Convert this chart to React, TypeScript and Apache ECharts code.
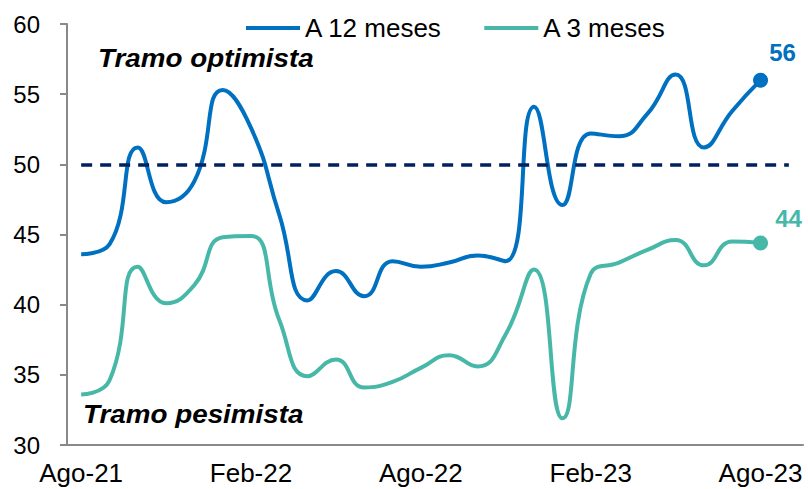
import React, { useEffect, useRef } from "react";
import * as echarts from "echarts";

const months = [
  "Ago-21", "Sep-21", "Oct-21", "Nov-21", "Dic-21", "Ene-22",
  "Feb-22", "Mar-22", "Abr-22", "May-22", "Jun-22", "Jul-22",
  "Ago-22", "Sep-22", "Oct-22", "Nov-22", "Dic-22", "Ene-23",
  "Feb-23", "Mar-23", "Abr-23", "May-23", "Jun-23", "Jul-23",
  "Ago-23", "Sep-23",
];

const a12 = [
  43.6, 44.3, 51.2, 47.3, 48.8, 55.3, 52.6, 46.4, 40.3, 42.4, 40.6, 43.1,
  42.7, 43.0, 43.5, 43.1, 54.1, 47.1, 52.2, 52.0, 53.6, 56.4, 51.2, 53.8, 56.0,
];

const a3 = [
  33.6, 34.6, 42.7, 40.1, 41.4, 44.8, 44.9, 38.9, 34.9, 36.1, 34.1, 34.5,
  35.5, 36.4, 35.6, 37.9, 42.5, 31.9, 42.2, 43.0, 43.9, 44.6, 42.8, 44.5, 44.4,
];

const neutral = 50;
const yTicks = { min: 30, max: 60, step: 5 };

const BLUE = "#0070C0";
const TEAL = "#47B8A8";
const NAVY = "#002060";
const AXIS = "#898989";
const FONT = "'Liberation Sans', Arial, sans-serif";

function withEndPoint(values: number[], color: string, offset: number[]) {
  return values.map((v, i) =>
    i === values.length - 1
      ? {
          value: v,
          symbol: "circle",
          symbolSize: 15,
          itemStyle: { color },
          label: {
            show: true,
            position: "top",
            offset,
            formatter: (p: any) => Math.round(p.value).toString(),
            color,
            fontSize: 24,
            fontWeight: "bold",
            fontFamily: FONT,
          },
        }
      : v
  );
}

export default function App() {
  const ref = useRef<HTMLDivElement>(null);

  useEffect(() => {
    if (!ref.current) return;
    const chart = echarts.init(ref.current, undefined, { renderer: "svg" });
    const showIdx = (i: number) => i % 6 === 0 && i <= 24;
    chart.setOption({
      animation: false,
      backgroundColor: "#ffffff",
      grid: { left: 67, right: 5, top: 24, bottom: 44, containLabel: false },
      legend: {
        left: 241,
        top: 10,
        icon: "rect",
        itemWidth: 54,
        itemHeight: 4,
        itemGap: 42,
        data: ["A 12 meses", "A 3 meses"],
        textStyle: { fontSize: 26, color: "#000", fontFamily: FONT },
      },
      xAxis: {
        type: "category",
        boundaryGap: true,
        data: months,
        axisLine: { lineStyle: { color: AXIS, width: 2 } },
        axisTick: {
          interval: (i: number) => showIdx(i),
          length: 7,
          lineStyle: { color: AXIS, width: 2 },
        },
        axisLabel: {
          interval: (i: number) => showIdx(i),
          fontSize: 26,
          color: "#000",
          fontFamily: FONT,
          margin: 15,
        },
        splitLine: { show: false },
      },
      yAxis: {
        type: "value",
        min: yTicks.min,
        max: yTicks.max,
        interval: yTicks.step,
        axisLine: { show: true, lineStyle: { color: AXIS, width: 2 } },
        axisTick: { show: true, length: 7, lineStyle: { color: AXIS, width: 2 } },
        axisLabel: { fontSize: 24, color: "#000", fontFamily: FONT, margin: 27 },
        splitLine: { show: false },
      },
      graphic: [
        {
          type: "text",
          x: 98,
          y: 58,
          scaleX: 1.07,
          style: {
            text: "Tramo optimista",
            fontSize: 26,
            fontWeight: "bold",
            fontStyle: "italic",
            fontFamily: FONT,
            fill: "#000",
            verticalAlign: "middle",
          },
        },
        {
          type: "text",
          x: 83,
          y: 414,
          scaleX: 1.07,
          style: {
            text: "Tramo pesimista",
            fontSize: 26,
            fontWeight: "bold",
            fontStyle: "italic",
            fontFamily: FONT,
            fill: "#000",
            verticalAlign: "middle",
          },
        },
      ],
      series: [
        {
          name: "A 12 meses",
          type: "line",
          smooth: 0.5,
          symbol: "none",
          color: BLUE,
          lineStyle: { color: BLUE, width: 4 },
          data: withEndPoint(a12, BLUE, [22, -3]),
          z: 3,
          markLine: {
            silent: true,
            symbol: "none",
            label: { show: false },
            lineStyle: { color: NAVY, width: 3.5, type: [11, 8] },
            data: [
              [
                { coord: [months[0], neutral] },
                { coord: [months[25], neutral] },
              ],
            ],
          },
        },
        {
          name: "A 3 meses",
          type: "line",
          smooth: 0.5,
          symbol: "none",
          color: TEAL,
          lineStyle: { color: TEAL, width: 4 },
          data: withEndPoint(a3, TEAL, [28, 0]),
          z: 2,
        },
      ],
    });
    return () => chart.dispose();
  }, []);

  return (
    <div
      ref={ref}
      style={{ position: "fixed", left: 0, top: 0, width: 808, height: 489 }}
    />
  );
}
